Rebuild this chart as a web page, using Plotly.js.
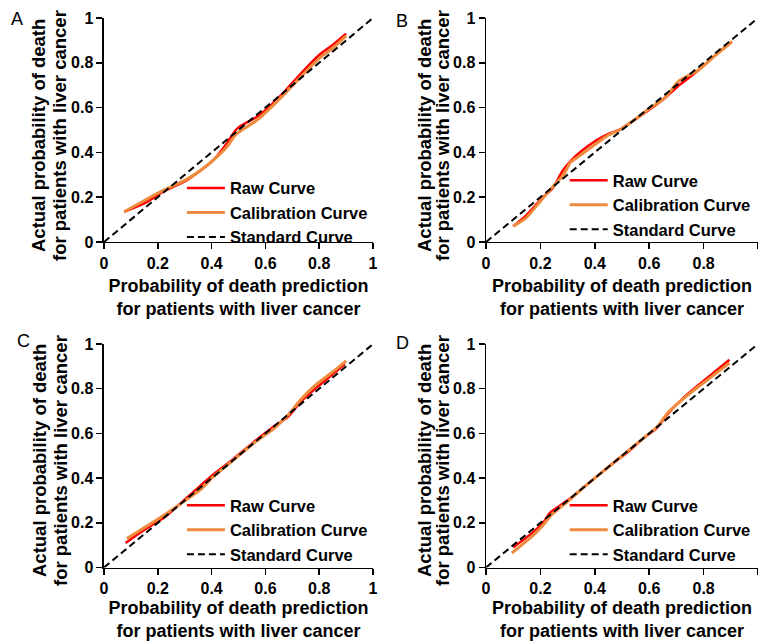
<!DOCTYPE html>
<html>
<head>
<meta charset="utf-8">
<script src="https://cdn.plot.ly/plotly-3.0.1.min.js"></script>
<style>
  html, body { margin: 0; padding: 0; background: #ffffff; }
  #chart { width: 758px; height: 641px; }
</style>
</head>
<body>
<div id="chart"></div>
<script>
// ---------- data ----------
var panelLetters = ['A', 'B', 'C', 'D'];
var tickValues = [0, 0.2, 0.4, 0.6, 0.8, 1];
var tickLabels = ['0', '0.2', '0.4', '0.6', '0.8', '1'];
var seriesNames = ['Raw Curve', 'Calibration Curve', 'Standard Curve'];
var xTitle = 'Probability of death prediction<br>for patients with liver cancer';
var yTitleLines = ['Actual probability of death', 'for patients with liver cancer'];

var standardX = [0, 1];
var standardY = [0, 1];

// Panel A
var aRawX = [0.075, 0.15, 0.22, 0.30, 0.36, 0.41, 0.45, 0.49, 0.51, 0.57, 0.62, 0.67, 0.73, 0.80, 0.85, 0.90];
var aRawY = [0.135, 0.172, 0.225, 0.27, 0.32, 0.37, 0.43, 0.50, 0.52, 0.56, 0.61, 0.67, 0.75, 0.835, 0.88, 0.93];
var aCalX = [0.075, 0.15, 0.22, 0.30, 0.36, 0.42, 0.46, 0.49, 0.52, 0.57, 0.62, 0.67, 0.73, 0.80, 0.85, 0.90];
var aCalY = [0.135, 0.185, 0.23, 0.275, 0.32, 0.38, 0.43, 0.48, 0.505, 0.545, 0.60, 0.66, 0.735, 0.82, 0.865, 0.92];

// Panel B
var bRawX = [0.10, 0.145, 0.205, 0.245, 0.28, 0.31, 0.35, 0.40, 0.45, 0.49, 0.54, 0.60, 0.66, 0.71, 0.78, 0.84, 0.90];
var bRawY = [0.07, 0.115, 0.195, 0.24, 0.315, 0.36, 0.405, 0.45, 0.483, 0.50, 0.54, 0.59, 0.645, 0.70, 0.765, 0.83, 0.89];
var bCalX = [0.10, 0.145, 0.205, 0.255, 0.285, 0.31, 0.35, 0.40, 0.45, 0.49, 0.54, 0.60, 0.66, 0.71, 0.78, 0.84, 0.905];
var bCalY = [0.07, 0.105, 0.19, 0.26, 0.30, 0.355, 0.39, 0.435, 0.477, 0.50, 0.54, 0.595, 0.647, 0.72, 0.767, 0.83, 0.895];

// Panel C
var cRawX = [0.08, 0.145, 0.23, 0.32, 0.405, 0.48, 0.555, 0.63, 0.685, 0.73, 0.79, 0.85, 0.895];
var cRawY = [0.11, 0.165, 0.23, 0.325, 0.415, 0.485, 0.56, 0.63, 0.675, 0.74, 0.805, 0.865, 0.91];
var cCalX = [0.085, 0.145, 0.23, 0.32, 0.36, 0.405, 0.48, 0.555, 0.63, 0.69, 0.73, 0.79, 0.85, 0.90];
var cCalY = [0.13, 0.175, 0.24, 0.315, 0.35, 0.405, 0.48, 0.555, 0.62, 0.69, 0.75, 0.82, 0.875, 0.925];

// Panel D
var dRawX = [0.10, 0.17, 0.21, 0.235, 0.305, 0.375, 0.45, 0.525, 0.585, 0.625, 0.67, 0.745, 0.82, 0.895];
var dRawY = [0.09, 0.155, 0.20, 0.245, 0.305, 0.375, 0.45, 0.52, 0.585, 0.62, 0.69, 0.78, 0.855, 0.93];
var dCalX = [0.095, 0.17, 0.21, 0.24, 0.30, 0.37, 0.445, 0.52, 0.585, 0.63, 0.67, 0.745, 0.82, 0.895];
var dCalY = [0.065, 0.14, 0.19, 0.235, 0.295, 0.37, 0.445, 0.52, 0.585, 0.63, 0.695, 0.775, 0.845, 0.915];

// ---------- styling ----------
var FONT = 'Arial, "Liberation Sans", Helvetica, sans-serif';
var RED = '#ff0000';
var ORANGE = '#f08a3c';
var W = 758, H = 641;

var panels = [
  {rx: aRawX, ry: aRawY, cx: aCalX, cy: aCalY},
  {rx: bRawX, ry: bRawY, cx: bCalX, cy: bCalY},
  {rx: cRawX, ry: cRawY, cx: cCalX, cy: cCalY},
  {rx: dRawX, ry: dRawY, cx: dCalX, cy: dCalY}
];

var xDomains = [[0.1372, 0.4921], [0.6412, 1.0], [0.1372, 0.4921], [0.6412, 1.0]];
var yDomains = [[0.6225, 0.9719], [0.6225, 0.9719], [0.1146, 0.4633], [0.1146, 0.4633]];
var legendPos = [[0.240, 0.668], [0.745, 0.680], [0.240, 0.173], [0.745, 0.173]];
var letterPos = [[17, 19], [402, 21], [23, 341], [402, 343]];
// pixel centres of the two rotated y-title lines, and the vertical centre
var yTitlePos = [[39, 60, 136], [425, 443, 136], [39, 60, 461], [424, 442, 461]];

var traces = [];
var layout = {
  width: W, height: H,
  margin: {l: 0, r: 0, t: 0, b: 0},
  paper_bgcolor: '#ffffff',
  plot_bgcolor: 'rgba(0,0,0,0)',
  font: {family: FONT, color: '#000000'},
  annotations: []
};

panels.forEach(function (p, i) {
  var n = i === 0 ? '' : String(i + 1);
  var xa = 'x' + n, ya = 'y' + n;
  var lg = 'legend' + n;
  traces.push({
    x: p.rx, y: p.ry, xaxis: xa, yaxis: ya, legend: lg,
    type: 'scatter', mode: 'lines', name: seriesNames[0],
    line: {color: RED, width: 2.5, shape: 'spline', smoothing: 0.6}
  });
  traces.push({
    x: p.cx, y: p.cy, xaxis: xa, yaxis: ya, legend: lg,
    type: 'scatter', mode: 'lines', name: seriesNames[1],
    line: {color: ORANGE, width: 3, shape: 'spline', smoothing: 0.6}
  });
  traces.push({
    x: standardX, y: standardY, xaxis: xa, yaxis: ya, legend: lg,
    type: 'scatter', mode: 'lines', name: seriesNames[2],
    line: {color: '#000000', width: 2, dash: '7px,4px'}
  });

  var axCommon = {
    range: [0, 1],
    tickvals: tickValues, ticktext: tickLabels,
    showgrid: false, zeroline: false,
    showline: true, linecolor: '#000000', linewidth: 1.5,
    ticks: 'outside', ticklen: 6, tickwidth: 1.5, tickcolor: '#000000',
    tickfont: {family: FONT, size: 16, weight: 'bold', color: '#000000'},
    fixedrange: true
  };
  layout['xaxis' + n] = Object.assign({}, axCommon, {
    domain: xDomains[i], anchor: ya,
    ticklabelstandoff: 0,
    title: {text: xTitle, standoff: 8, font: {family: FONT, size: 18, weight: 'bold', color: '#000000'}}
  });
  layout['yaxis' + n] = Object.assign({}, axCommon, {
    domain: yDomains[i], anchor: xa
  });
  layout[lg] = {
    x: legendPos[i][0], y: legendPos[i][1], xanchor: 'left', yanchor: 'middle',
    bgcolor: 'rgba(0,0,0,0)', borderwidth: 0,
    font: {family: FONT, size: 16.5, weight: 'bold', color: '#000000'},
    itemwidth: 38, tracegroupgap: 0
  };
  layout.annotations.push({
    text: panelLetters[i], xref: 'paper', yref: 'paper',
    x: letterPos[i][0] / W, y: 1 - letterPos[i][1] / H,
    xanchor: 'center', yanchor: 'middle', showarrow: false,
    font: {family: FONT, size: 18, color: '#000000'}
  });
  // y-axis title, one annotation per line for exact line spacing
  yTitleLines.forEach(function (line, k) {
    layout.annotations.push({
      text: line, xref: 'paper', yref: 'paper', textangle: -90,
      x: yTitlePos[i][k] / W, y: 1 - yTitlePos[i][2] / H,
      xanchor: 'center', yanchor: 'middle', showarrow: false,
      font: {family: FONT, size: 18.5, weight: 'bold', color: '#000000'}
    });
  });
});

Plotly.newPlot('chart', traces, layout, {displayModeBar: false, staticPlot: true});
</script>
</body>
</html>
